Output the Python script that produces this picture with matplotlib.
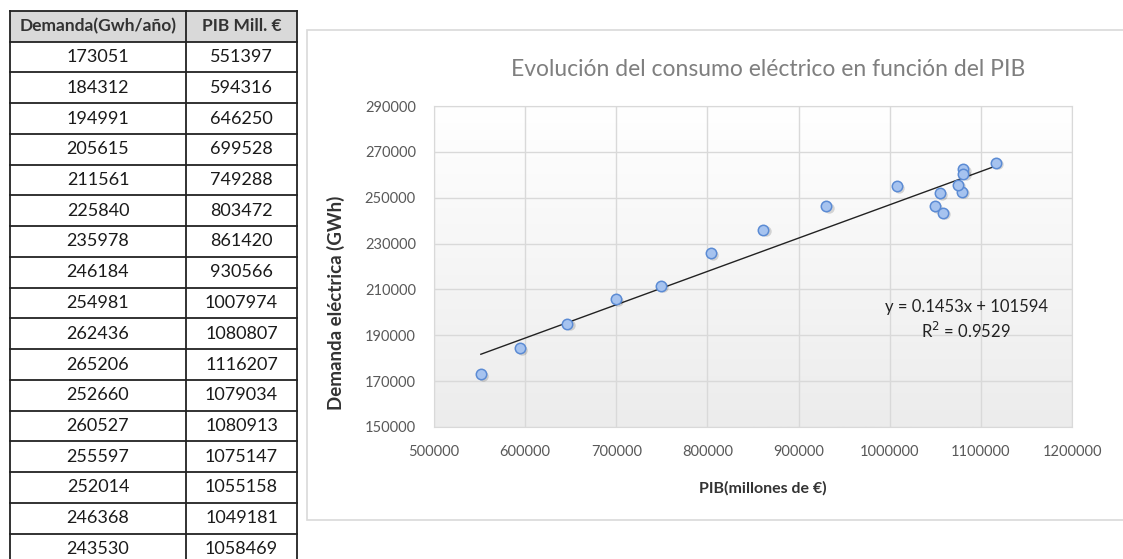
import numpy as np
import matplotlib.pyplot as plt
from matplotlib.patches import Rectangle
from matplotlib.colors import LinearSegmentedColormap

plt.rcParams['font.family'] = ['Lato', 'DejaVu Sans']

# datos de la tabla
col_labels = ['Demanda(Gwh/año)', 'PIB Mill. €']
demanda = [173051, 184312, 194991, 205615, 211561, 225840, 235978, 246184,
           254981, 262436, 265206, 252660, 260527, 255597, 252014, 246368, 243530]
pib = [551397, 594316, 646250, 699528, 749288, 803472, 861420, 930566,
       1007974, 1080807, 1116207, 1079034, 1080913, 1075147, 1055158, 1049181, 1058469]

title = 'Evolución del consumo eléctrico en función del PIB'
xlabel = 'PIB(millones de €)'
ylabel = 'Demanda eléctrica (GWh)'
xticks = [500000, 600000, 700000, 800000, 900000, 1000000, 1100000, 1200000]
yticks = [150000, 170000, 190000, 210000, 230000, 250000, 270000, 290000]

W, H = 1123, 559
fig = plt.figure(figsize=(W / 100, H / 100), dpi=100)

# capa de fondo en pixeles (tabla + marco del grafico)
bg = fig.add_axes([0, 0, 1, 1])
bg.set_xlim(0, W)
bg.set_ylim(H, 0)
bg.axis('off')

# tabla
x0, xm, x1 = 10, 186, 297
row_h = 30.75
top = 57 - 1.5 * row_h
bg.add_patch(Rectangle((x0, top), x1 - x0, row_h, facecolor='#d9d9d9',
                       edgecolor='none', zorder=1))
n = len(demanda)
for i in range(n + 2):
    yy = top + i * row_h
    bg.plot([x0, x1], [yy, yy], color='#222222', lw=1.3, zorder=2)
bottom = top + (n + 1) * row_h
for xx in (x0, xm, x1):
    bg.plot([xx, xx], [top, bottom], color='#222222', lw=1.3, zorder=2)
for j, lab in enumerate(col_labels):
    cx = (x0 + xm) / 2 if j == 0 else (xm + x1) / 2
    bg.text(cx, top + row_h / 2, lab, ha='center', va='center',
            fontsize=12.5, fontweight='bold', color='#333333')
for i, (d, p) in enumerate(zip(demanda, pib)):
    cy = top + (i + 1.5) * row_h
    bg.text((x0 + xm) / 2, cy, str(d), ha='center', va='center',
            fontsize=13, color='#1a1a1a')
    bg.text((xm + x1) / 2, cy, str(p), ha='center', va='center',
            fontsize=13, color='#1a1a1a')

# marco del grafico
bg.add_patch(Rectangle((307, 30), W - 307 + 5, 490, facecolor='white',
                       edgecolor='#d9d9d9', lw=1.2, zorder=1))
bg.text(768, 70, title, ha='center', va='center', fontsize=16.5, color='#7f7f7f')

# area del grafico
pl, pr, pt, pb = 434, 1072, 106, 427
ax = fig.add_axes([pl / W, (H - pb) / H, (pr - pl) / W, (pb - pt) / H])
ax.set_xlim(xticks[0], xticks[-1])
ax.set_ylim(yticks[0], yticks[-1])
grad = np.linspace(0, 1, 256).reshape(-1, 1)
ax.imshow(grad, extent=[0, 1, 0, 1], transform=ax.transAxes, aspect='auto',
          cmap=LinearSegmentedColormap.from_list('g', ['#ececec', '#ffffff']),
          origin='lower', zorder=0)
ax.set_xticks(xticks)
ax.set_yticks(yticks)
ax.set_xticklabels([str(t) for t in xticks])
ax.set_yticklabels([str(t) for t in yticks])
ax.grid(True, color='#d9d9d9', lw=1)
ax.set_axisbelow(True)
for s in ax.spines.values():
    s.set_color('#d9d9d9')
ax.tick_params(length=0, labelsize=10.5, labelcolor='#595959', pad=13)

x = np.array(pib, dtype=float)
y = np.array(demanda, dtype=float)
m, b = np.polyfit(x, y, 1)
r2 = np.corrcoef(x, y)[0, 1] ** 2
xs = np.array([x.min(), x.max()])
ax.plot(xs, m * xs + b, color='#222222', lw=1, zorder=3)

# sombra + puntos
ax.plot(x + 2500, y - 700, 'o', ms=7.5, color='#000000', alpha=0.15,
        mec='none', zorder=3)
ax.plot(x, y, 'o', ms=7.5, mfc='#a6c3ef', mec='#5b8bd4', mew=1.1, zorder=4)

ax.set_xlabel(xlabel, fontsize=11.5, fontweight='bold', color='#333333')
ax.set_ylabel(ylabel, fontsize=13.5, fontweight='bold', color='#333333')
ax.xaxis.set_label_coords((763 - pl) / (pr - pl), -(481 - pb) / (pb - pt))
ax.yaxis.set_label_coords(-(pl - 345) / (pr - pl), (pb - 303) / (pb - pt))

# ecuacion de la tendencia
fig.text(966 / W, 1 - 307 / H, 'y = %.4fx + %d' % (m, round(b)),
         ha='center', va='center', fontsize=12, color='#222222')
fig.text(966 / W, 1 - 331 / H, 'R$^2$ = %.4f' % r2,
         ha='center', va='center', fontsize=12, color='#222222')

fig.savefig('out.png', dpi=100)
